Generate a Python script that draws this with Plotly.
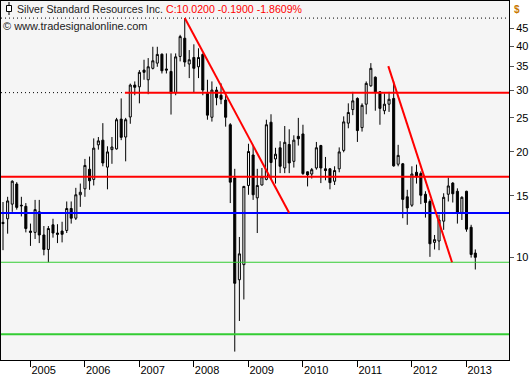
import plotly.graph_objects as go
import pandas as pd
import math

# ---- data (monthly bars, Jul 2004 - Mar 2013) ----
dates = pd.date_range("2004-07-01", periods=105, freq="MS")

opens = [12.6, 12.9, 14.2, 16.2, 14.1, 14.0, 11.9, 11.8, 13.5, 11.6,
         10.55, 12.4, 11.75, 11.9, 11.95, 13.8, 12.95, 15.1, 15.7, 17.85,
         16.7, 20.95, 21.6, 18.1, 20.3, 20.4, 24.8, 22.05, 25.15, 31.0,
         30.65, 34.2, 32.1, 34.6, 35.8, 37.95, 34.45, 33.9, 29.5, 37.4,
         42.15, 35.6, 37.15, 34.95, 37.9, 29.35, 25.1, 30.0, 29.0, 28.1,
         23.9, 16.85, 8.65, 9.55, 16.05, 19.6, 14.8, 16.1, 16.7, 24.3,
         19.1, 20.55, 18.0, 21.0, 18.8, 22.15, 22.5, 17.55, 17.3, 18.0,
         20.85, 17.9, 17.9, 16.5, 17.9, 20.2, 24.15, 26.4, 28.4, 23.45,
         27.35, 30.85, 32.65, 29.65, 26.2, 27.35, 28.4, 18.45, 18.5, 14.9,
         14.1, 17.5, 17.35, 15.15, 14.45, 11.05, 11.15, 12.7, 15.15, 16.3,
         15.45, 13.45, 15.45, 12.2, 10.3]
highs = [14.4, 14.9, 16.6, 16.4, 14.9, 14.3, 12.5, 14.6, 14.6, 12.3,
         12.3, 12.9, 12.45, 12.65, 14.45, 14.45, 15.8, 16.25, 19.1, 19.4,
         21.85, 22.05, 24.15, 20.75, 22.05, 25.0, 28.4, 25.0, 31.3, 31.75,
         34.2, 36.6, 37.0, 39.85, 39.85, 38.15, 38.15, 38.15, 38.15, 43.1,
         48.1, 39.0, 40.5, 39.45, 38.15, 32.1, 31.75, 30.65, 31.35, 29.2,
         24.15, 17.9, 11.45, 16.0, 21.1, 20.95, 17.9, 18.0, 24.7, 25.6,
         20.55, 21.45, 23.7, 23.2, 22.3, 25.0, 23.9, 17.6, 18.0, 21.35,
         20.95, 19.35, 18.0, 18.2, 20.6, 25.25, 27.5, 29.65, 28.6, 27.5,
         31.75, 35.8, 32.8, 29.8, 29.35, 29.65, 31.75, 20.95, 18.6, 15.6,
         18.2, 18.4, 17.6, 15.45, 14.65, 11.6, 13.25, 15.25, 16.9, 16.4,
         15.75, 14.95, 15.5, 12.4, 10.55]
lows = [10.5, 11.7, 13.5, 13.7, 13.1, 11.8, 10.8, 11.3, 11.0, 10.15,
        9.7, 11.4, 11.0, 11.05, 11.75, 12.5, 12.8, 13.95, 14.9, 15.6,
        16.05, 20.3, 18.2, 15.65, 18.5, 20.3, 21.6, 18.8, 24.05, 29.0,
        27.5, 32.1, 29.2, 34.35, 34.95, 33.45, 33.45, 25.55, 29.0, 36.2,
        34.95, 32.45, 29.55, 32.45, 29.0, 24.7, 24.4, 27.15, 27.35, 23.6,
        14.3, 5.4, 6.6, 7.6, 15.1, 14.6, 11.75, 16.05, 16.6, 16.7,
        16.25, 17.4, 17.4, 17.4, 18.05, 20.85, 17.2, 15.95, 16.8, 17.8,
        16.3, 16.6, 15.65, 16.1, 17.5, 19.95, 23.35, 25.45, 21.35, 22.85,
        25.6, 30.65, 26.2, 23.9, 25.6, 26.0, 18.15, 18.2, 12.95, 12.4,
        13.95, 16.25, 14.2, 13.0, 10.05, 10.55, 10.5, 12.0, 14.45, 14.35,
        12.5, 12.8, 11.85, 10.0, 9.25]
closes = [12.5, 14.5, 16.5, 13.9, 14.05, 12.1, 11.8, 13.7, 11.6, 10.55,
          12.1, 11.75, 11.65, 11.65, 13.8, 12.95, 15.1, 15.35, 18.3, 16.55,
          20.5, 21.5, 18.6, 20.0, 20.65, 24.7, 22.0, 24.7, 31.0, 30.55,
          33.7, 33.7, 34.95, 36.35, 37.9, 34.05, 34.2, 29.4, 37.3, 42.6,
          36.05, 36.6, 34.6, 37.15, 30.0, 25.45, 30.0, 28.55, 28.25, 25.1,
          16.4, 8.45, 10.25, 15.95, 20.05, 15.1, 16.05, 17.0, 23.9, 18.65,
          19.7, 18.2, 21.3, 18.6, 21.6, 21.8, 17.35, 17.2, 17.8, 20.55,
          18.0, 17.7, 16.35, 17.7, 20.0, 24.35, 25.9, 27.95, 23.0, 27.15,
          31.35, 34.6, 29.65, 26.6, 27.35, 28.25, 18.25, 19.55, 14.65, 13.85,
          17.3, 17.0, 15.05, 14.35, 10.95, 11.25, 12.8, 14.85, 16.0, 15.2,
          13.45, 14.85, 12.05, 10.21, 10.02]

title_name = "Silver Standard Resources Inc."
title_quote = "C:10.0200 -0.1900 -1.8609%"
copyright_text = "\u00a9 www.tradesignalonline.com"
currency_label = "$"

year_ticks = ["2005-01-01", "2006-01-01", "2007-01-01", "2008-01-01", "2009-01-01",
              "2010-01-01", "2011-01-01", "2012-01-01", "2013-01-01"]
year_labels = ["2005", "2006", "2007", "2008", "2009", "2010", "2011", "2012", "2013"]
price_ticks = [10, 15, 20, 25, 30, 35, 40, 45]

# support / resistance levels
peak_level = 48.1
resistance_upper = 29.5
resistance_upper_start = "2006-09-26"
resistance_lower = 17.0
middle_level = 13.4
support_upper = 9.7
support_lower = 6.05

# trend lines (start/end dates and prices)
trend1_x = ["2007-11-01", "2009-10-01"]
trend1_y = [48.1, 13.4]
trend2_x = ["2011-07-27", "2012-09-26"]
trend2_y = [35.1, 9.7]

x_range = ["2004-06-17 14:20", "2013-10-12 19:00"]
y_range_vals = (5.11, 53.8)

BG = "#f5f5f5"
RED = "#ff0000"
BLUE = "#0000ff"
GREEN = "#33cc33"

fig = go.Figure()

def hline(y, color, width, x0=None, x1=None, dash="solid"):
    fig.add_trace(go.Scatter(
        x=[x0 or x_range[0], x1 or x_range[1]], y=[y, y], mode="lines",
        line=dict(color=color, width=width, dash=dash),
        hoverinfo="skip", showlegend=False))

hline(peak_level, "#000000", 1, dash="1px,3px")
hline(resistance_upper, "#000000", 1, x1=resistance_upper_start, dash="1px,3px")
hline(support_lower, GREEN, 2)
hline(support_upper, GREEN, 1)
hline(middle_level, BLUE, 2)
hline(resistance_lower, RED, 2)
hline(resistance_upper, RED, 2, x0=resistance_upper_start)

fig.add_trace(go.Candlestick(
    x=dates, open=opens, high=highs, low=lows, close=closes,
    increasing=dict(line=dict(color="#000000", width=1), fillcolor=BG),
    decreasing=dict(line=dict(color="#000000", width=1), fillcolor="#000000"),
    whiskerwidth=0, showlegend=False, hoverinfo="skip"))

for tx, ty in ((trend1_x, trend1_y), (trend2_x, trend2_y)):
    fig.add_trace(go.Scatter(x=tx, y=ty, mode="lines",
                             line=dict(color=RED, width=2),
                             hoverinfo="skip", showlegend=False))

fig.update_layout(
    width=530, height=380,
    margin=dict(l=1, r=21, t=1, b=20),
    paper_bgcolor="#ffffff", plot_bgcolor=BG,
    font=dict(family="Liberation Sans, Arial, sans-serif", size=11, color="#000000"),
    showlegend=False,
    xaxis=dict(type="date", range=x_range, rangeslider=dict(visible=False),
               showgrid=False, zeroline=False,
               showline=True, linecolor="#000000", linewidth=1, mirror=True,
               tickmode="array", tickvals=year_ticks, ticktext=year_labels,
               ticks="outside", ticklen=6, tickcolor="#000000", tickwidth=1,
               ticklabelposition="outside right",
               tickfont=dict(size=11, color="#000000")),
    yaxis=dict(type="log", side="right",
               range=[math.log10(y_range_vals[0]), math.log10(y_range_vals[1])],
               showgrid=False, zeroline=False,
               showline=True, linecolor="#000000", linewidth=1, mirror=True,
               tickmode="array", tickvals=price_ticks,
               ticktext=[str(v) for v in price_ticks],
               ticks="outside", ticklen=4, tickcolor="#555555",
               tickfont=dict(size=11, color="#000000")),
)

def px_x(px):
    return (px - 1) / 508.0

def px_y(py):
    return (360 - py) / 359.0

fig.add_annotation(
    xref="paper", yref="paper", x=px_x(16), y=px_y(9), xanchor="left", yanchor="middle",
    text=f"{title_name} <span style='color:#ff0000'>{title_quote}</span>",
    showarrow=False, font=dict(size=10.6, color="#222222"), borderpad=0)
fig.add_annotation(
    xref="paper", yref="paper", x=px_x(2), y=px_y(26), xanchor="left", yanchor="middle",
    text=copyright_text, showarrow=False, font=dict(size=11, color="#222222"), borderpad=0)
fig.add_annotation(
    xref="paper", yref="paper", x=px_x(513), y=px_y(10), xanchor="left", yanchor="middle",
    text=f"<b>{currency_label}</b>", showarrow=False,
    font=dict(size=10, color="#c87800"), borderpad=0)

# small candle icon before the title
fig.add_shape(type="line", xref="paper", yref="paper",
              x0=px_x(9), x1=px_x(9), y0=px_y(2), y1=px_y(15),
              line=dict(color="#000000", width=1))
fig.add_shape(type="rect", xref="paper", yref="paper",
              x0=px_x(6.5), x1=px_x(11.5), y0=px_y(5.5), y1=px_y(11.5),
              line=dict(color="#000000", width=1), fillcolor="#ffffff")

fig.write_html("out.html", config={"displayModeBar": False},
               post_script="document.body.style.margin='0';")
